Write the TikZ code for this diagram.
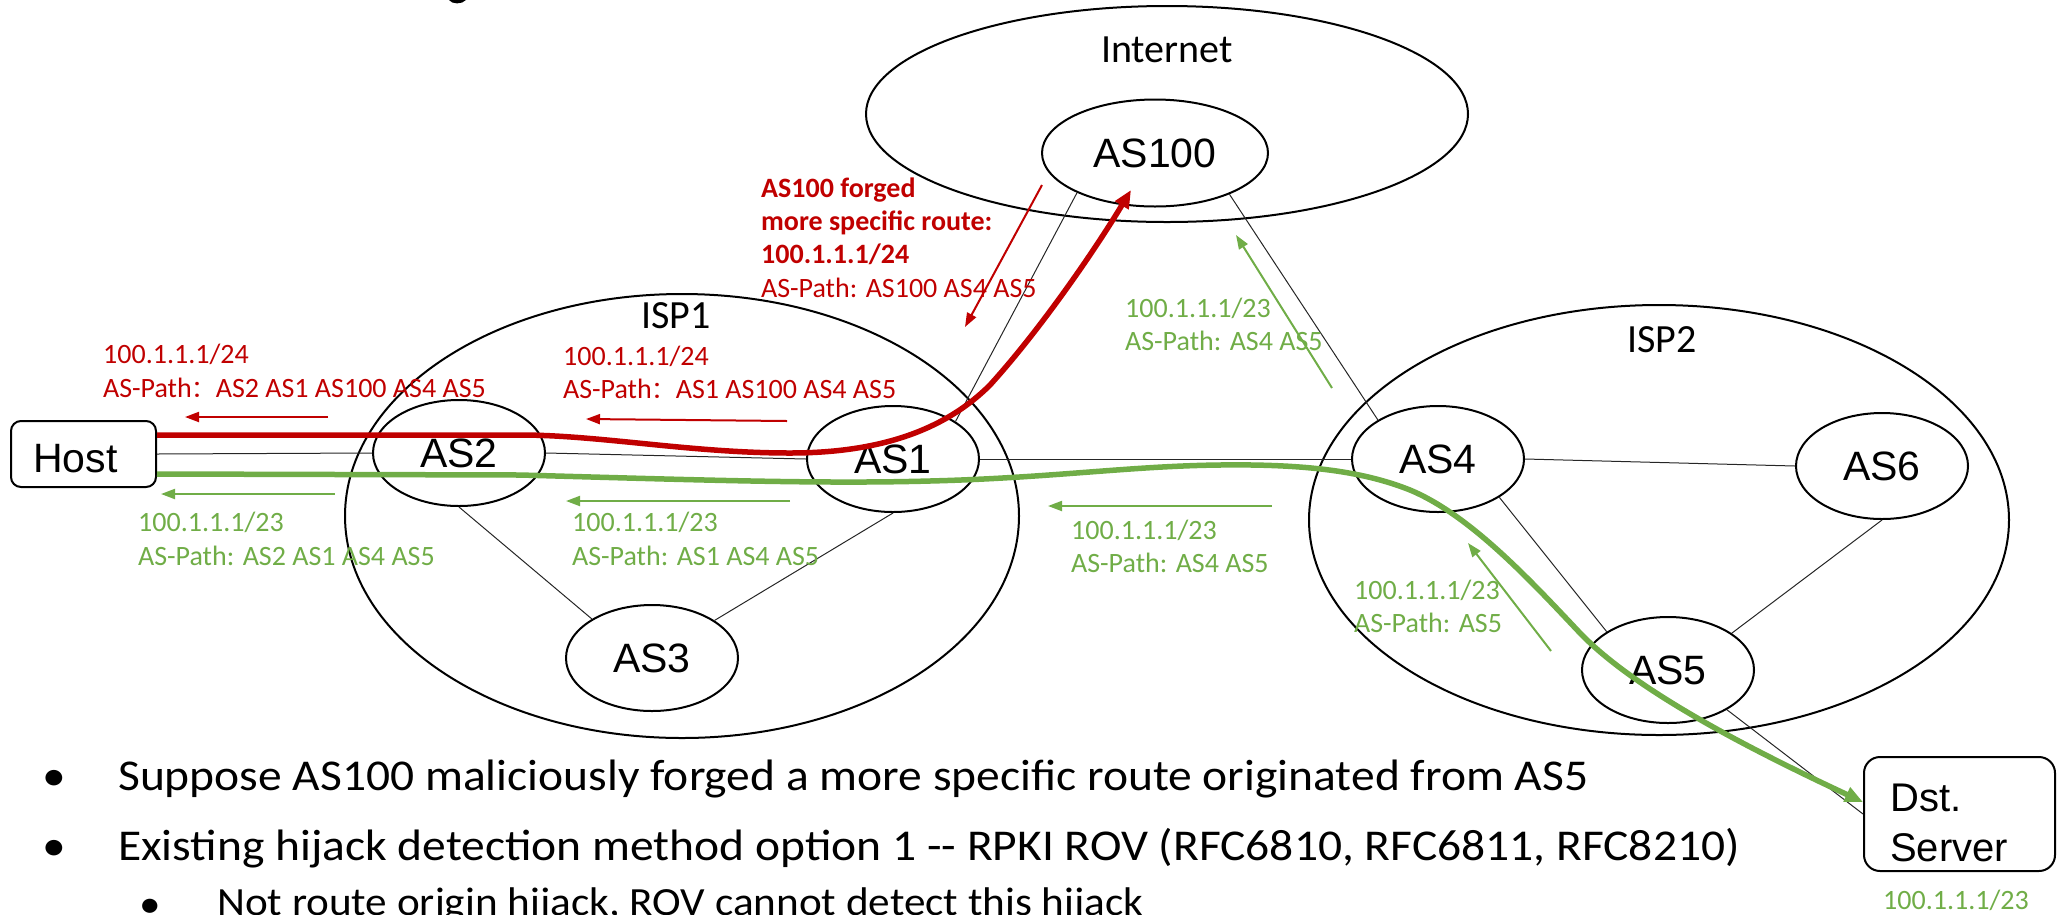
\documentclass[tikz,border=0pt]{standalone}
\usepackage{fontspec}
\setmainfont{Liberation Sans}
\newfontfamily\calfont{Carlito}
\newfontfamily\bulfont[FakeStretch=1.08]{Carlito}
\newfontfamily\cjkfont{Noto Sans CJK SC}
\usetikzlibrary{shapes.geometric,arrows.meta,calc}
\definecolor{hijackred}{HTML}{C00000}
\definecolor{legitgreen}{HTML}{70AD47}
\newcommand{\fwcolon}{{\cjkfont\fontsize{24}{34}\selectfont ：}}

\begin{document}
\begin{tikzpicture}[x=1pt,y=-1pt,
  asnode/.style={draw, ellipse, line width=2pt, inner sep=0pt,
    minimum width=172pt, minimum height=106pt,
    font=\fontsize{41}{49}\selectfont},
  region/.style={draw, ellipse, line width=2pt, inner sep=0pt},
  regionlabel/.style={inner sep=0pt, anchor=base, font=\calfont\fontsize{40}{48}\selectfont},
  endbox/.style={draw, line width=2pt, inner sep=0pt},
  txt/.style={inner sep=0pt, anchor=base west, font=\fontsize{40}{50}\selectfont},
  link/.style={line width=1pt, black!85},
  lbl/.style={inner sep=0pt, anchor=base west, font=\calfont\fontsize{28}{34}\selectfont},
  redlbl/.style={lbl, text=hijackred},
  greenlbl/.style={lbl, text=legitgreen},
  redarrow/.style={hijackred, line width=2pt, -{Triangle[length=14pt,width=10pt]}},
  greenarrow/.style={legitgreen, line width=2pt, -{Triangle[length=14pt,width=10pt]}},
  redpath/.style={hijackred, line width=5.5pt, -{Triangle[length=18pt,width=15pt]}},
  greenpath/.style={legitgreen, line width=5.5pt, -{Triangle[length=18pt,width=15pt]}},
  bullettxt/.style={inner sep=0pt, anchor=base west, font=\bulfont\fontsize{44}{70}\selectfont}
]
\useasboundingbox (0,0) rectangle (2059,914);

% descender of the title line above
\fill (449,0) .. controls (452,4.5) and (462,4.5) .. (466,0) -- cycle;

% regions
\node[region, minimum width=602pt, minimum height=216pt] (internet) at (1167,114) {};
\node[region, minimum width=674pt, minimum height=444pt] (isp1) at (682,516) {};
\node[region, minimum width=700pt, minimum height=430pt] (isp2) at (1659,520) {};
\node[regionlabel] (internetlbl) at (1167,62) {Internet};
\node[regionlabel] (isp1lbl) at (676,328) {ISP1};
\node[regionlabel] (isp2lbl) at (1662,352) {ISP2};

% autonomous systems
\node[asnode, minimum width=226pt, minimum height=107pt] (as100) at (1155,153) {AS100};
\node[asnode] (as2) at (459,453) {AS2};
\node[asnode] (as1) at (893,459) {AS1};
\node[asnode] (as3) at (652,658) {AS3};
\node[asnode] (as4) at (1438,459) {AS4};
\node[asnode] (as6) at (1882,466) {AS6};
\node[asnode] (as5) at (1668,670) {AS5};

% end hosts
\node[endbox, rounded corners=10pt, minimum width=145pt, minimum height=66pt] (host) at (83.5,454) {};
\node[txt, font=\fontsize{41}{49}\selectfont] (hosttxt) at (33,472) {Host};
\node[endbox, rounded corners=16pt, minimum width=191pt, minimum height=114pt] (dst) at (1959.5,814) {};
\node[txt] (dsttxt1) at (1890,811) {Dst.};
\node[txt] (dsttxt2) at (1890,861) {Server};
\node[greenlbl] (dstpfx) at (1883,909) {100.1.1.1/23};

% links
\draw[link] (host.east) -- (as2.west);
\draw[link] (as2.east) -- (as1.west);
\draw[link] (as1.east) -- (as4.west);
\draw[link] (as2.south) -- (as3.147.7);
\draw[link] (as1.south) -- (as3.31);
\draw[link] (as1.31.7) -- (as100.207);
\draw[link] (as100.331.8) -- (as4.147);
\draw[link] (as4.east) -- (as6.west);
\draw[link] (as4.328.2) -- (as5.148.8);
\draw[link] (as6.south) -- (as5.30);
\draw[link] (as5.326.3) -- (dst.west);

% legitimate route announcements
\coordinate (g1s) at (335,494); \coordinate (g1e) at (161,494);
\coordinate (g2s) at (790,501); \coordinate (g2e) at (566,501);
\coordinate (g3s) at (1272,506); \coordinate (g3e) at (1048,506);
\coordinate (g4s) at (1332,388); \coordinate (g4e) at (1236,235);
\coordinate (g5s) at (1551,651); \coordinate (g5e) at (1468,543);
\draw[greenarrow] (g1s) -- (g1e);
\draw[greenarrow] (g2s) -- (g2e);
\draw[greenarrow] (g3s) -- (g3e);
\draw[greenarrow] (g4s) -- (g4e);
\draw[greenarrow] (g5s) -- (g5e);

\node[greenlbl] at (138,531) {100.1.1.1/23};
\node[greenlbl] at (138,565) {AS-Path: AS2 AS1 AS4 AS5};
\node[greenlbl] at (572,531) {100.1.1.1/23};
\node[greenlbl] at (572,565) {AS-Path: AS1 AS4 AS5};
\node[greenlbl] at (1071,539) {100.1.1.1/23};
\node[greenlbl] at (1071,572) {AS-Path: AS4 AS5};
\node[greenlbl] at (1125,317) {100.1.1.1/23};
\node[greenlbl] at (1125,350) {AS-Path: AS4 AS5};
\node[greenlbl] at (1354,599) {100.1.1.1/23};
\node[greenlbl] at (1354,632) {AS-Path: AS5};

% forged route announcements
\coordinate (r1s) at (328,417); \coordinate (r1e) at (185,417);
\coordinate (r2s) at (787,421); \coordinate (r2e) at (586,419);
\coordinate (r3s) at (1042,185); \coordinate (r3e) at (965,327);
\draw[redarrow] (r1s) -- (r1e);
\draw[redarrow] (r2s) -- (r2e);
\draw[redarrow] (r3s) -- (r3e);

\node[redlbl] at (103,363) {100.1.1.1/24};
\node[redlbl] at (103,397) {AS-Path\fwcolon AS2 AS1 AS100 AS4 AS5};
\node[redlbl] at (563,365) {100.1.1.1/24};
\node[redlbl] at (563,398) {AS-Path\fwcolon AS1 AS100 AS4 AS5};
\node[redlbl, font=\calfont\bfseries\fontsize{28}{34}\selectfont] at (761,197) {AS100 forged};
\node[redlbl, font=\calfont\bfseries\fontsize{28}{34}\selectfont] at (761,230) {more specific route:};
\node[redlbl, font=\calfont\bfseries\fontsize{28}{34}\selectfont] at (761,263) {100.1.1.1/24};
\node[redlbl] at (761,297) {AS-Path: AS100 AS4 AS5};

% traffic paths
\draw[redpath] ([yshift=19pt]host.east) -- (520,435)
  .. controls (600,435) and (690,453) .. (790,453)
  .. controls (880,453) and (945,430) .. (990,385)
  .. controls (1040,330) and (1095,250) .. ($(as100)+(-24,37)$);
\draw[greenpath] ([yshift=-20pt]host.east) -- (520,475)
  .. controls (700,480) and (820,484) .. (930,481)
  .. controls (1050,478) and (1130,466) .. (1220,465)
  .. controls (1300,464) and (1360,470) .. (1410,490)
  .. controls (1470,515) and (1530,580) .. (1580,633)
  .. controls (1630,685) and (1730,740) .. ([yshift=12pt]dst.west);

% notes
\node[bullettxt, anchor=base] at (54,790) {•};
\node[bullettxt] at (118,790) {Suppose AS100 maliciously forged a more specific route originated from AS5};
\node[bullettxt, anchor=base] at (54,860) {•};
\node[bullettxt] at (118,860) {Existing hijack detection method option 1 -- RPKI ROV (RFC6810, RFC6811, RFC8210)};
\node[bullettxt, anchor=base, font=\bulfont\fontsize{40}{60}\selectfont] at (150,917) {•};
\node[bullettxt, font=\bulfont\fontsize{40}{60}\selectfont] at (217,915) {Not route origin hijack, ROV cannot detect this hijack};
\end{tikzpicture}
\end{document}
